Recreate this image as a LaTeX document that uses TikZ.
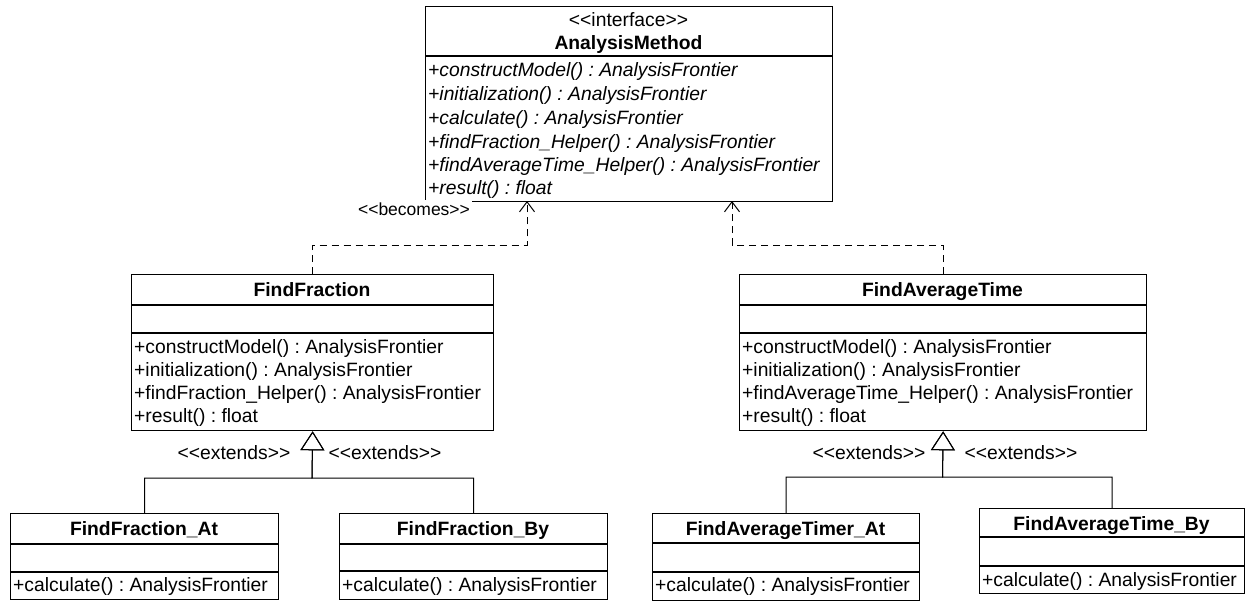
\documentclass[tikz,border=0pt]{standalone}
\usepackage{fontspec}
\setmainfont{Liberation Sans}[Ligatures=TeXOff]
\usetikzlibrary{arrows.meta,calc}
\frenchspacing
\newcommand\fsz{\fontsize{19.3}{23}\selectfont\frenchspacing}
\newcommand\fsl{\fontsize{17.5}{21}\selectfont\frenchspacing}
\tikzset{
  cls/.style={draw, line width=1.3pt, rectangle, inner sep=0pt, anchor=north west},
  sepl/.style={line width=1.3pt},
  mth/.style={inner sep=0pt, anchor=base west, font=\fsz},
  mthi/.style={inner sep=0pt, anchor=base west, font=\fsz\itshape},
  ttl/.style={inner sep=0pt, anchor=base, font=\fsz\bfseries},
  stereo/.style={inner sep=0pt, anchor=base, font=\fsz},
  lbl/.style={inner sep=0pt, font=\fsz},
  dep/.style={line width=1pt, dash pattern=on 7pt off 5pt, -{Straight Barb[length=10pt,width=15pt]}},
  gen/.style={line width=1pt, -{Triangle[open,length=19pt,width=24pt]}}
}
\begin{document}
\begin{tikzpicture}[x=1pt,y=-1pt]
\useasboundingbox (0,0) rectangle (1249,602);
% boxes
\node[cls, minimum width=407pt, minimum height=195pt] (am) at (425,6) {};
\node[cls, minimum width=362pt, minimum height=156pt] (ff) at (131,274) {};
\node[cls, minimum width=407pt, minimum height=156pt] (fat) at (739,274) {};
\node[cls, minimum width=268pt, minimum height=86pt] (ffa) at (10,513) {};
\node[cls, minimum width=268pt, minimum height=86pt] (ffb) at (339,513) {};
\node[cls, minimum width=267pt, minimum height=87pt] (fata) at (652,513) {};
\node[cls, minimum width=265pt, minimum height=85pt] (fatb) at (979,508) {};
% separators
\draw[sepl] ($(am.north west)+(0,50)$) -- ($(am.north east)+(0,50)$);
\foreach \b/\s/\t in {ff/31/59, fat/31/59, ffa/31/59, ffb/31/58, fata/30/59, fatb/29/58}{
  \draw[sepl] ($(\b.north west)+(0,\s)$) -- ($(\b.north east)+(0,\s)$);
  \draw[sepl] ($(\b.north west)+(0,\t)$) -- ($(\b.north east)+(0,\t)$);
}
% AnalysisMethod
\node[stereo] (am-st) at (628.5,27) {<<interface>>};
\node[ttl] (am-t) at (628.5,50) {AnalysisMethod};
\node[mthi] (am-m1) at (428,77) {+constructModel() : AnalysisFrontier};
\node[mthi] (am-m2) at (428,100) {+initialization() : AnalysisFrontier};
\node[mthi] (am-m3) at (428,124) {+calculate() : AnalysisFrontier};
\node[mthi] (am-m4) at (428,148) {+findFraction\_Helper() : AnalysisFrontier};
\node[mthi] (am-m5) at (428,171) {+findAverageTime\_Helper() : AnalysisFrontier};
\node[mthi] (am-m6) at (428,194) {+result() : float};
% FindFraction
\node[ttl] (ff-t) at (312,296) {FindFraction};
\node[mth] (ff-m1) at (134,353) {+constructModel() : AnalysisFrontier};
\node[mth] (ff-m2) at (134,376) {+initialization() : AnalysisFrontier};
\node[mth] (ff-m3) at (134,399) {+findFraction\_Helper() : AnalysisFrontier};
\node[mth] (ff-m4) at (134,422) {+result() : float};
% FindAverageTime
\node[ttl] (fat-t) at (942.5,296) {FindAverageTime};
\node[mth] (fat-m1) at (742,353) {+constructModel() : AnalysisFrontier};
\node[mth] (fat-m2) at (742,376) {+initialization() : AnalysisFrontier};
\node[mth] (fat-m3) at (742,399) {+findAverageTime\_Helper() : AnalysisFrontier};
\node[mth] (fat-m4) at (742,422) {+result() : float};
% bottom classes
\node[ttl] (ffa-t) at (144,535) {FindFraction\_At};
\node[mth] (ffa-m) at (13,591) {+calculate() : AnalysisFrontier};
\node[ttl] (ffb-t) at (473,535) {FindFraction\_By};
\node[mth] (ffb-m) at (342,591) {+calculate() : AnalysisFrontier};
\node[ttl] (fata-t) at (785.5,535) {FindAverageTimer\_At};
\node[mth] (fata-m) at (655,591) {+calculate() : AnalysisFrontier};
\node[ttl] (fatb-t) at (1111.5,530) {FindAverageTime\_By};
\node[mth] (fatb-m) at (982,586) {+calculate() : AnalysisFrontier};
% connectors: realization
\coordinate (am-in1) at (527,201);
\coordinate (am-in2) at (732,201);
\coordinate (d1) at (527,245);
\coordinate (d2) at (732,245);
\draw[dep] (ff.north) |- (d1) -- (am-in1);
\draw[dep] (fat.north) |- (d2) -- (am-in2);
\node[lbl, font=\fsl, fill=white, inner xsep=2pt, inner ysep=3pt] (becomes) at (414,209) {<<becomes>>};
% connectors: generalization
\coordinate (g1) at (312,478);
\coordinate (g2) at (942.5,477);
\draw[gen] (ffa.north) |- (g1) -- (ff.south);
\draw[gen] (ffb.north) |- (g1) -- (ff.south);
\draw[gen] (fata.north) |- (g2) -- (fat.south);
\draw[gen] (fatb.north) |- (g2) -- (fat.south);
\node[lbl] (ext1) at (234,453) {<<extends>>};
\node[lbl] (ext2) at (385,453) {<<extends>>};
\node[lbl] (ext3) at (869,453) {<<extends>>};
\node[lbl] (ext4) at (1021,453) {<<extends>>};
\end{tikzpicture}
\end{document}
